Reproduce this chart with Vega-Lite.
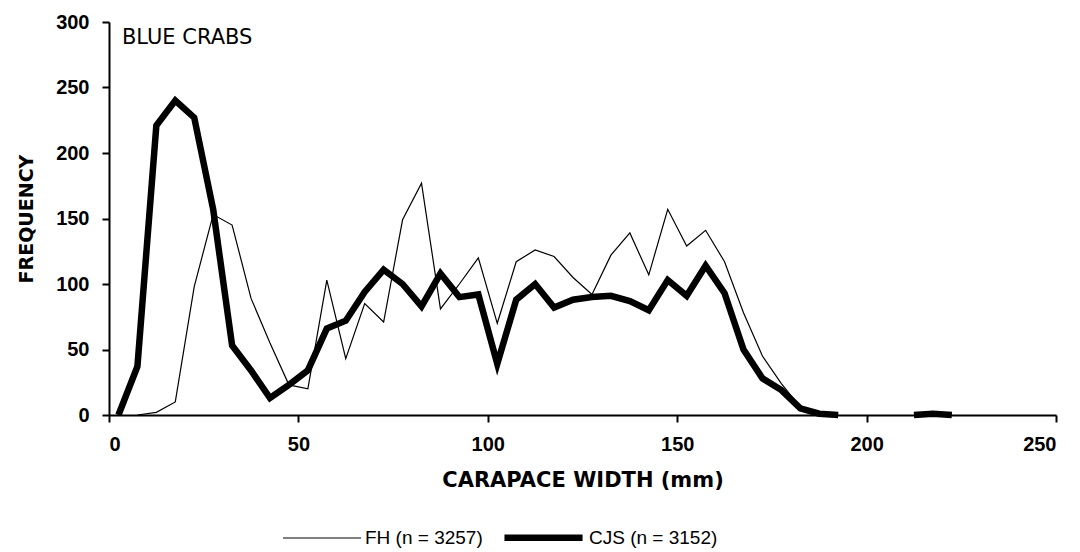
{
  "$schema": "https://vega.github.io/schema/vega-lite/v6.json",
  "autosize": {"type": "none"},
  "width": 947,
  "height": 393,
  "padding": {"left": 109, "top": 22, "right": 24, "bottom": 137},
  "background": "white",
  "config": {
    "view": {"stroke": null},
    "font": "Liberation Sans",
    "axis": {
      "grid": false,
      "domainColor": "black",
      "domainWidth": 2,
      "tickColor": "black",
      "tickWidth": 2,
      "tickSize": 7,
      "labelColor": "black",
      "labelFont": "Liberation Sans",
      "labelFontSize": 20,
      "labelFontWeight": "bold",
      "titleColor": "black",
      "titleFont": "DejaVu Sans",
      "titleFontSize": 19,
      "titleFontWeight": "bold"
    }
  },
  "datasets": {
    "crabs": [
      {"width": 7.5, "freq": 0, "series": "FH (n = 3257)"},
      {"width": 12.5, "freq": 2, "series": "FH (n = 3257)"},
      {"width": 17.5, "freq": 10, "series": "FH (n = 3257)"},
      {"width": 22.5, "freq": 98, "series": "FH (n = 3257)"},
      {"width": 27.5, "freq": 153, "series": "FH (n = 3257)"},
      {"width": 32.5, "freq": 145, "series": "FH (n = 3257)"},
      {"width": 37.5, "freq": 89, "series": "FH (n = 3257)"},
      {"width": 42.5, "freq": 55, "series": "FH (n = 3257)"},
      {"width": 47.5, "freq": 23, "series": "FH (n = 3257)"},
      {"width": 52.5, "freq": 20, "series": "FH (n = 3257)"},
      {"width": 57.5, "freq": 103, "series": "FH (n = 3257)"},
      {"width": 62.5, "freq": 43, "series": "FH (n = 3257)"},
      {"width": 67.5, "freq": 85, "series": "FH (n = 3257)"},
      {"width": 72.5, "freq": 71, "series": "FH (n = 3257)"},
      {"width": 77.5, "freq": 149, "series": "FH (n = 3257)"},
      {"width": 82.5, "freq": 177, "series": "FH (n = 3257)"},
      {"width": 87.5, "freq": 81, "series": "FH (n = 3257)"},
      {"width": 92.5, "freq": 100, "series": "FH (n = 3257)"},
      {"width": 97.5, "freq": 120, "series": "FH (n = 3257)"},
      {"width": 102.5, "freq": 70, "series": "FH (n = 3257)"},
      {"width": 107.5, "freq": 117, "series": "FH (n = 3257)"},
      {"width": 112.5, "freq": 126, "series": "FH (n = 3257)"},
      {"width": 117.5, "freq": 121, "series": "FH (n = 3257)"},
      {"width": 122.5, "freq": 105, "series": "FH (n = 3257)"},
      {"width": 127.5, "freq": 92, "series": "FH (n = 3257)"},
      {"width": 132.5, "freq": 122, "series": "FH (n = 3257)"},
      {"width": 137.5, "freq": 139, "series": "FH (n = 3257)"},
      {"width": 142.5, "freq": 107, "series": "FH (n = 3257)"},
      {"width": 147.5, "freq": 157, "series": "FH (n = 3257)"},
      {"width": 152.5, "freq": 129, "series": "FH (n = 3257)"},
      {"width": 157.5, "freq": 141, "series": "FH (n = 3257)"},
      {"width": 162.5, "freq": 117, "series": "FH (n = 3257)"},
      {"width": 167.5, "freq": 78, "series": "FH (n = 3257)"},
      {"width": 172.5, "freq": 45, "series": "FH (n = 3257)"},
      {"width": 177.5, "freq": 24, "series": "FH (n = 3257)"},
      {"width": 182.5, "freq": 6, "series": "FH (n = 3257)"},
      {"width": 187.5, "freq": 1, "series": "FH (n = 3257)"},
      {"width": 192.5, "freq": 0, "series": "FH (n = 3257)"},
      {"width": 2.5, "freq": 0, "series": "CJS (n = 3152)"},
      {"width": 7.5, "freq": 37, "series": "CJS (n = 3152)"},
      {"width": 12.5, "freq": 221, "series": "CJS (n = 3152)"},
      {"width": 17.5, "freq": 240, "series": "CJS (n = 3152)"},
      {"width": 22.5, "freq": 227, "series": "CJS (n = 3152)"},
      {"width": 27.5, "freq": 157, "series": "CJS (n = 3152)"},
      {"width": 32.5, "freq": 53, "series": "CJS (n = 3152)"},
      {"width": 37.5, "freq": 34, "series": "CJS (n = 3152)"},
      {"width": 42.5, "freq": 13, "series": "CJS (n = 3152)"},
      {"width": 47.5, "freq": 23, "series": "CJS (n = 3152)"},
      {"width": 52.5, "freq": 34, "series": "CJS (n = 3152)"},
      {"width": 57.5, "freq": 66, "series": "CJS (n = 3152)"},
      {"width": 62.5, "freq": 72, "series": "CJS (n = 3152)"},
      {"width": 67.5, "freq": 94, "series": "CJS (n = 3152)"},
      {"width": 72.5, "freq": 111, "series": "CJS (n = 3152)"},
      {"width": 77.5, "freq": 100, "series": "CJS (n = 3152)"},
      {"width": 82.5, "freq": 83, "series": "CJS (n = 3152)"},
      {"width": 87.5, "freq": 108, "series": "CJS (n = 3152)"},
      {"width": 92.5, "freq": 90, "series": "CJS (n = 3152)"},
      {"width": 97.5, "freq": 92, "series": "CJS (n = 3152)"},
      {"width": 102.5, "freq": 39, "series": "CJS (n = 3152)"},
      {"width": 107.5, "freq": 88, "series": "CJS (n = 3152)"},
      {"width": 112.5, "freq": 100, "series": "CJS (n = 3152)"},
      {"width": 117.5, "freq": 82, "series": "CJS (n = 3152)"},
      {"width": 122.5, "freq": 88, "series": "CJS (n = 3152)"},
      {"width": 127.5, "freq": 90, "series": "CJS (n = 3152)"},
      {"width": 132.5, "freq": 91, "series": "CJS (n = 3152)"},
      {"width": 137.5, "freq": 87, "series": "CJS (n = 3152)"},
      {"width": 142.5, "freq": 80, "series": "CJS (n = 3152)"},
      {"width": 147.5, "freq": 103, "series": "CJS (n = 3152)"},
      {"width": 152.5, "freq": 91, "series": "CJS (n = 3152)"},
      {"width": 157.5, "freq": 114, "series": "CJS (n = 3152)"},
      {"width": 162.5, "freq": 93, "series": "CJS (n = 3152)"},
      {"width": 167.5, "freq": 50, "series": "CJS (n = 3152)"},
      {"width": 172.5, "freq": 28, "series": "CJS (n = 3152)"},
      {"width": 177.5, "freq": 19, "series": "CJS (n = 3152)"},
      {"width": 182.5, "freq": 5, "series": "CJS (n = 3152)"},
      {"width": 187.5, "freq": 1, "series": "CJS (n = 3152)"},
      {"width": 192.5, "freq": 0, "series": "CJS (n = 3152)"},
      {"width": 197.5, "freq": null, "series": "CJS (n = 3152)"},
      {"width": 202.5, "freq": null, "series": "CJS (n = 3152)"},
      {"width": 207.5, "freq": null, "series": "CJS (n = 3152)"},
      {"width": 212.5, "freq": 0, "series": "CJS (n = 3152)"},
      {"width": 217.5, "freq": 1, "series": "CJS (n = 3152)"},
      {"width": 222.5, "freq": 0, "series": "CJS (n = 3152)"}
    ],
    "label": [
      {"width": 3.4, "freq": 288, "text": "BLUE CRABS"}
    ]
  },
  "layer": [
    {
      "data": {"name": "crabs"},
      "mark": {"type": "line", "color": "black", "strokeJoin": "miter", "clip": false},
      "encoding": {
        "x": {
          "field": "width",
          "type": "quantitative",
          "scale": {"domain": [0, 250], "nice": false},
          "axis": {
            "values": [0, 50, 100, 150, 200, 250],
            "title": "CARAPACE WIDTH (mm)",
            "titleFontSize": 21,
            "labelPadding": 12,
            "titlePadding": 15
          }
        },
        "y": {
          "field": "freq",
          "type": "quantitative",
          "scale": {"domain": [0, 300], "nice": false},
          "axis": {
            "values": [0, 50, 100, 150, 200, 250, 300],
            "title": "FREQUENCY",
            "labelPadding": 13,
            "titlePadding": 19
          }
        },
        "detail": {"field": "series"},
        "strokeWidth": {
          "field": "series",
          "type": "nominal",
          "scale": {"domain": ["FH (n = 3257)", "CJS (n = 3152)"], "range": [1.2, 6.5]},
          "legend": {
            "title": null,
            "orient": "none",
            "direction": "horizontal",
            "legendX": 173,
            "legendY": 473,
            "symbolType": "stroke",
            "symbolSize": 6100,
            "symbolStrokeColor": "black",
            "labelFont": "Liberation Sans",
            "labelFontSize": 19,
            "labelColor": "black",
            "labelOffset": 3,
            "columnPadding": 8
          }
        },
        "order": {"field": "width", "type": "quantitative"}
      }
    },
    {
      "data": {"name": "label"},
      "mark": {"type": "text", "align": "left", "baseline": "middle", "font": "DejaVu Sans", "fontSize": 21, "color": "black"},
      "encoding": {
        "x": {"field": "width", "type": "quantitative"},
        "y": {"field": "freq", "type": "quantitative"},
        "text": {"field": "text"}
      }
    }
  ]
}
